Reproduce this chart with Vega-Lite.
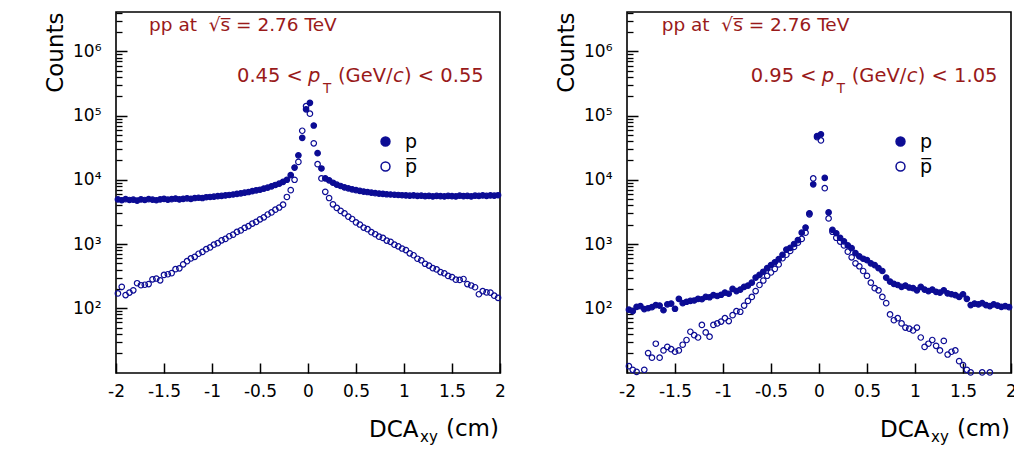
{
  "$schema": "https://vega.github.io/schema/vega-lite/v6.json",
  "background": "white",
  "padding": {"left": 43, "top": 11, "right": 0, "bottom": 0},
  "config": {
    "font": "DejaVu Sans",
    "view": {"stroke": "#000", "strokeWidth": 1.6},
    "axis": {"labelFont": "DejaVu Sans", "titleFont": "DejaVu Sans", "labelColor": "#000", "titleColor": "#000", "ticks": true, "tickColor": "#000000", "tickOpacity": 1, "tickWidth": 1.5, "titleFontWeight": "normal", "grid": false, "domain": false, "zindex": 1},
    "text": {"font": "DejaVu Sans"}
  },
  "datasets": {
    "L": [
      {"x":-1.98,"n":4950,"s":"p"},{"x":-1.94,"n":4800,"s":"p"},{"x":-1.90,"n":5000,"s":"p"},{"x":-1.86,"n":4850,"s":"p"},{"x":-1.82,"n":4900,"s":"p"},{"x":-1.78,"n":4750,"s":"p"},{"x":-1.74,"n":4950,"s":"p"},{"x":-1.70,"n":4850,"s":"p"},{"x":-1.66,"n":5000,"s":"p"},{"x":-1.62,"n":4900,"s":"p"},
      {"x":-1.58,"n":4800,"s":"p"},{"x":-1.54,"n":4950,"s":"p"},{"x":-1.50,"n":5050,"s":"p"},{"x":-1.46,"n":4900,"s":"p"},{"x":-1.42,"n":5000,"s":"p"},{"x":-1.38,"n":5100,"s":"p"},{"x":-1.34,"n":4950,"s":"p"},{"x":-1.30,"n":5050,"s":"p"},{"x":-1.26,"n":5150,"s":"p"},{"x":-1.22,"n":5050,"s":"p"},
      {"x":-1.18,"n":5200,"s":"p"},{"x":-1.14,"n":5250,"s":"p"},{"x":-1.10,"n":5200,"s":"p"},{"x":-1.06,"n":5350,"s":"p"},{"x":-1.02,"n":5400,"s":"p"},{"x":-0.98,"n":5450,"s":"p"},{"x":-0.94,"n":5550,"s":"p"},{"x":-0.90,"n":5600,"s":"p"},{"x":-0.86,"n":5700,"s":"p"},{"x":-0.82,"n":5800,"s":"p"},
      {"x":-0.78,"n":5900,"s":"p"},{"x":-0.74,"n":6050,"s":"p"},{"x":-0.70,"n":6150,"s":"p"},{"x":-0.66,"n":6300,"s":"p"},{"x":-0.62,"n":6450,"s":"p"},{"x":-0.58,"n":6650,"s":"p"},{"x":-0.54,"n":6850,"s":"p"},{"x":-0.50,"n":7000,"s":"p"},{"x":-0.46,"n":7300,"s":"p"},{"x":-0.42,"n":7550,"s":"p"},
      {"x":-0.38,"n":7900,"s":"p"},{"x":-0.34,"n":8300,"s":"p"},{"x":-0.30,"n":8700,"s":"p"},{"x":-0.26,"n":9300,"s":"p"},{"x":-0.22,"n":10000,"s":"p"},{"x":-0.18,"n":11800,"s":"p"},{"x":-0.14,"n":15500,"s":"p"},{"x":-0.10,"n":24000,"s":"p"},{"x":-0.06,"n":45000,"s":"p"},{"x":-0.02,"n":125000,"s":"p"},
      {"x":0.02,"n":158000,"s":"p"},{"x":0.06,"n":70000,"s":"p"},{"x":0.10,"n":26000,"s":"p"},{"x":0.14,"n":15000,"s":"p"},{"x":0.18,"n":10500,"s":"p"},{"x":0.22,"n":9800,"s":"p"},{"x":0.26,"n":9000,"s":"p"},{"x":0.30,"n":8400,"s":"p"},{"x":0.34,"n":8000,"s":"p"},{"x":0.38,"n":7600,"s":"p"},
      {"x":0.42,"n":7350,"s":"p"},{"x":0.46,"n":7100,"s":"p"},{"x":0.50,"n":6900,"s":"p"},{"x":0.54,"n":6700,"s":"p"},{"x":0.58,"n":6550,"s":"p"},{"x":0.62,"n":6450,"s":"p"},{"x":0.66,"n":6300,"s":"p"},{"x":0.70,"n":6200,"s":"p"},{"x":0.74,"n":6100,"s":"p"},{"x":0.78,"n":6050,"s":"p"},
      {"x":0.82,"n":5950,"s":"p"},{"x":0.86,"n":5900,"s":"p"},{"x":0.90,"n":5850,"s":"p"},{"x":0.94,"n":5800,"s":"p"},{"x":0.98,"n":5750,"s":"p"},{"x":1.02,"n":5700,"s":"p"},{"x":1.06,"n":5650,"s":"p"},{"x":1.10,"n":5700,"s":"p"},{"x":1.14,"n":5600,"s":"p"},{"x":1.18,"n":5650,"s":"p"},
      {"x":1.22,"n":5550,"s":"p"},{"x":1.26,"n":5600,"s":"p"},{"x":1.30,"n":5500,"s":"p"},{"x":1.34,"n":5600,"s":"p"},{"x":1.38,"n":5550,"s":"p"},{"x":1.42,"n":5500,"s":"p"},{"x":1.46,"n":5600,"s":"p"},{"x":1.50,"n":5550,"s":"p"},{"x":1.54,"n":5500,"s":"p"},{"x":1.58,"n":5650,"s":"p"},
      {"x":1.62,"n":5550,"s":"p"},{"x":1.66,"n":5600,"s":"p"},{"x":1.70,"n":5500,"s":"p"},{"x":1.74,"n":5650,"s":"p"},{"x":1.78,"n":5600,"s":"p"},{"x":1.82,"n":5700,"s":"p"},{"x":1.86,"n":5600,"s":"p"},{"x":1.90,"n":5700,"s":"p"},{"x":1.94,"n":5650,"s":"p"},{"x":1.98,"n":5750,"s":"p"},
      {"x":-1.98,"n":170,"s":"pbar"},{"x":-1.94,"n":215,"s":"pbar"},{"x":-1.90,"n":160,"s":"pbar"},{"x":-1.86,"n":175,"s":"pbar"},{"x":-1.82,"n":190,"s":"pbar"},{"x":-1.78,"n":245,"s":"pbar"},{"x":-1.74,"n":228,"s":"pbar"},{"x":-1.70,"n":232,"s":"pbar"},{"x":-1.66,"n":238,"s":"pbar"},{"x":-1.62,"n":282,"s":"pbar"},
      {"x":-1.58,"n":290,"s":"pbar"},{"x":-1.54,"n":272,"s":"pbar"},{"x":-1.50,"n":330,"s":"pbar"},{"x":-1.46,"n":338,"s":"pbar"},{"x":-1.42,"n":352,"s":"pbar"},{"x":-1.38,"n":405,"s":"pbar"},{"x":-1.34,"n":418,"s":"pbar"},{"x":-1.30,"n":482,"s":"pbar"},{"x":-1.26,"n":540,"s":"pbar"},{"x":-1.22,"n":596,"s":"pbar"},
      {"x":-1.18,"n":632,"s":"pbar"},{"x":-1.14,"n":705,"s":"pbar"},{"x":-1.10,"n":752,"s":"pbar"},{"x":-1.06,"n":830,"s":"pbar"},{"x":-1.02,"n":885,"s":"pbar"},{"x":-0.98,"n":975,"s":"pbar"},{"x":-0.94,"n":1030,"s":"pbar"},{"x":-0.90,"n":1140,"s":"pbar"},{"x":-0.86,"n":1200,"s":"pbar"},{"x":-0.82,"n":1320,"s":"pbar"},
      {"x":-0.78,"n":1400,"s":"pbar"},{"x":-0.74,"n":1540,"s":"pbar"},{"x":-0.70,"n":1630,"s":"pbar"},{"x":-0.66,"n":1790,"s":"pbar"},{"x":-0.62,"n":1900,"s":"pbar"},{"x":-0.58,"n":2080,"s":"pbar"},{"x":-0.54,"n":2210,"s":"pbar"},{"x":-0.50,"n":2420,"s":"pbar"},{"x":-0.46,"n":2600,"s":"pbar"},{"x":-0.42,"n":2880,"s":"pbar"},
      {"x":-0.38,"n":3100,"s":"pbar"},{"x":-0.34,"n":3420,"s":"pbar"},{"x":-0.30,"n":3700,"s":"pbar"},{"x":-0.26,"n":4100,"s":"pbar"},{"x":-0.22,"n":5400,"s":"pbar"},{"x":-0.18,"n":6900,"s":"pbar"},{"x":-0.14,"n":10000,"s":"pbar"},{"x":-0.10,"n":19000,"s":"pbar"},{"x":-0.06,"n":58000,"s":"pbar"},{"x":-0.02,"n":140000,"s":"pbar"},
      {"x":0.02,"n":107000,"s":"pbar"},{"x":0.06,"n":37000,"s":"pbar"},{"x":0.10,"n":17500,"s":"pbar"},{"x":0.14,"n":10500,"s":"pbar"},{"x":0.18,"n":6500,"s":"pbar"},{"x":0.22,"n":5200,"s":"pbar"},{"x":0.26,"n":4150,"s":"pbar"},{"x":0.30,"n":3650,"s":"pbar"},{"x":0.34,"n":3280,"s":"pbar"},{"x":0.38,"n":3010,"s":"pbar"},
      {"x":0.42,"n":2670,"s":"pbar"},{"x":0.46,"n":2450,"s":"pbar"},{"x":0.50,"n":2170,"s":"pbar"},{"x":0.54,"n":2010,"s":"pbar"},{"x":0.58,"n":1800,"s":"pbar"},{"x":0.62,"n":1700,"s":"pbar"},{"x":0.66,"n":1530,"s":"pbar"},{"x":0.70,"n":1420,"s":"pbar"},{"x":0.74,"n":1300,"s":"pbar"},{"x":0.78,"n":1245,"s":"pbar"},
      {"x":0.82,"n":1130,"s":"pbar"},{"x":0.86,"n":1080,"s":"pbar"},{"x":0.90,"n":975,"s":"pbar"},{"x":0.94,"n":920,"s":"pbar"},{"x":0.98,"n":850,"s":"pbar"},{"x":1.02,"n":805,"s":"pbar"},{"x":1.06,"n":715,"s":"pbar"},{"x":1.10,"n":668,"s":"pbar"},{"x":1.14,"n":590,"s":"pbar"},{"x":1.18,"n":558,"s":"pbar"},
      {"x":1.22,"n":492,"s":"pbar"},{"x":1.26,"n":462,"s":"pbar"},{"x":1.30,"n":420,"s":"pbar"},{"x":1.34,"n":402,"s":"pbar"},{"x":1.38,"n":365,"s":"pbar"},{"x":1.42,"n":350,"s":"pbar"},{"x":1.46,"n":318,"s":"pbar"},{"x":1.50,"n":305,"s":"pbar"},{"x":1.54,"n":278,"s":"pbar"},{"x":1.58,"n":276,"s":"pbar"},
      {"x":1.62,"n":285,"s":"pbar"},{"x":1.66,"n":238,"s":"pbar"},{"x":1.70,"n":226,"s":"pbar"},{"x":1.74,"n":212,"s":"pbar"},{"x":1.78,"n":165,"s":"pbar"},{"x":1.82,"n":184,"s":"pbar"},{"x":1.86,"n":176,"s":"pbar"},{"x":1.90,"n":175,"s":"pbar"},{"x":1.94,"n":157,"s":"pbar"},{"x":1.98,"n":145,"s":"pbar"}
    ],
    "R": [
      {"x":-1.98,"n":95,"s":"p"},{"x":-1.94,"n":90,"s":"p"},{"x":-1.90,"n":105,"s":"p"},{"x":-1.86,"n":108,"s":"p"},{"x":-1.82,"n":97,"s":"p"},{"x":-1.78,"n":100,"s":"p"},{"x":-1.74,"n":104,"s":"p"},{"x":-1.70,"n":112,"s":"p"},{"x":-1.66,"n":110,"s":"p"},{"x":-1.62,"n":93,"s":"p"},
      {"x":-1.58,"n":115,"s":"p"},{"x":-1.54,"n":118,"s":"p"},{"x":-1.50,"n":98,"s":"p"},{"x":-1.46,"n":140,"s":"p"},{"x":-1.42,"n":120,"s":"p"},{"x":-1.38,"n":126,"s":"p"},{"x":-1.34,"n":130,"s":"p"},{"x":-1.30,"n":132,"s":"p"},{"x":-1.26,"n":140,"s":"p"},{"x":-1.22,"n":138,"s":"p"},
      {"x":-1.18,"n":150,"s":"p"},{"x":-1.14,"n":148,"s":"p"},{"x":-1.10,"n":160,"s":"p"},{"x":-1.06,"n":155,"s":"p"},{"x":-1.02,"n":162,"s":"p"},{"x":-0.98,"n":175,"s":"p"},{"x":-0.94,"n":168,"s":"p"},{"x":-0.90,"n":200,"s":"p"},{"x":-0.86,"n":185,"s":"p"},{"x":-0.82,"n":195,"s":"p"},
      {"x":-0.78,"n":215,"s":"p"},{"x":-0.74,"n":225,"s":"p"},{"x":-0.70,"n":250,"s":"p"},{"x":-0.66,"n":300,"s":"p"},{"x":-0.62,"n":330,"s":"p"},{"x":-0.58,"n":370,"s":"p"},{"x":-0.54,"n":420,"s":"p"},{"x":-0.50,"n":470,"s":"p"},{"x":-0.46,"n":520,"s":"p"},{"x":-0.42,"n":580,"s":"p"},
      {"x":-0.38,"n":680,"s":"p"},{"x":-0.34,"n":820,"s":"p"},{"x":-0.30,"n":870,"s":"p"},{"x":-0.26,"n":1000,"s":"p"},{"x":-0.22,"n":1150,"s":"p"},{"x":-0.18,"n":1500,"s":"p"},{"x":-0.14,"n":1800,"s":"p"},{"x":-0.10,"n":3000,"s":"p"},{"x":-0.06,"n":8500,"s":"p"},{"x":-0.02,"n":48000,"s":"p"},
      {"x":0.02,"n":51000,"s":"p"},{"x":0.06,"n":10700,"s":"p"},{"x":0.10,"n":3100,"s":"p"},{"x":0.14,"n":1660,"s":"p"},{"x":0.18,"n":1470,"s":"p"},{"x":0.22,"n":1250,"s":"p"},{"x":0.26,"n":1100,"s":"p"},{"x":0.30,"n":950,"s":"p"},{"x":0.34,"n":860,"s":"p"},{"x":0.38,"n":720,"s":"p"},
      {"x":0.42,"n":640,"s":"p"},{"x":0.46,"n":590,"s":"p"},{"x":0.50,"n":560,"s":"p"},{"x":0.54,"n":500,"s":"p"},{"x":0.58,"n":470,"s":"p"},{"x":0.62,"n":420,"s":"p"},{"x":0.66,"n":380,"s":"p"},{"x":0.70,"n":300,"s":"p"},{"x":0.74,"n":260,"s":"p"},{"x":0.78,"n":240,"s":"p"},
      {"x":0.82,"n":230,"s":"p"},{"x":0.86,"n":215,"s":"p"},{"x":0.90,"n":225,"s":"p"},{"x":0.94,"n":210,"s":"p"},{"x":0.98,"n":205,"s":"p"},{"x":1.02,"n":190,"s":"p"},{"x":1.06,"n":215,"s":"p"},{"x":1.10,"n":195,"s":"p"},{"x":1.14,"n":185,"s":"p"},{"x":1.18,"n":195,"s":"p"},
      {"x":1.22,"n":180,"s":"p"},{"x":1.26,"n":175,"s":"p"},{"x":1.30,"n":190,"s":"p"},{"x":1.34,"n":170,"s":"p"},{"x":1.38,"n":165,"s":"p"},{"x":1.42,"n":160,"s":"p"},{"x":1.46,"n":150,"s":"p"},{"x":1.50,"n":165,"s":"p"},{"x":1.54,"n":140,"s":"p"},{"x":1.58,"n":112,"s":"p"},
      {"x":1.62,"n":118,"s":"p"},{"x":1.66,"n":115,"s":"p"},{"x":1.70,"n":120,"s":"p"},{"x":1.74,"n":112,"s":"p"},{"x":1.78,"n":108,"s":"p"},{"x":1.82,"n":115,"s":"p"},{"x":1.86,"n":110,"s":"p"},{"x":1.90,"n":105,"s":"p"},{"x":1.94,"n":108,"s":"p"},{"x":1.98,"n":104,"s":"p"},
      {"x":-1.98,"n":12.5,"s":"pbar"},{"x":-1.94,"n":11,"s":"pbar"},{"x":-1.90,"n":10.2,"s":"pbar"},{"x":-1.82,"n":11,"s":"pbar"},{"x":-1.78,"n":20,"s":"pbar"},{"x":-1.74,"n":17,"s":"pbar"},{"x":-1.70,"n":28,"s":"pbar"},{"x":-1.66,"n":17,"s":"pbar"},{"x":-1.62,"n":22,"s":"pbar"},
      {"x":-1.58,"n":25,"s":"pbar"},{"x":-1.54,"n":23,"s":"pbar"},{"x":-1.50,"n":21,"s":"pbar"},{"x":-1.46,"n":22,"s":"pbar"},{"x":-1.42,"n":27,"s":"pbar"},{"x":-1.38,"n":32,"s":"pbar"},{"x":-1.34,"n":43,"s":"pbar"},{"x":-1.30,"n":38,"s":"pbar"},{"x":-1.26,"n":35,"s":"pbar"},{"x":-1.22,"n":55,"s":"pbar"},
      {"x":-1.18,"n":42,"s":"pbar"},{"x":-1.14,"n":36,"s":"pbar"},{"x":-1.10,"n":55,"s":"pbar"},{"x":-1.06,"n":58,"s":"pbar"},{"x":-1.02,"n":62,"s":"pbar"},{"x":-0.98,"n":70,"s":"pbar"},{"x":-0.94,"n":63,"s":"pbar"},{"x":-0.90,"n":78,"s":"pbar"},{"x":-0.86,"n":90,"s":"pbar"},{"x":-0.82,"n":88,"s":"pbar"},
      {"x":-0.78,"n":110,"s":"pbar"},{"x":-0.74,"n":130,"s":"pbar"},{"x":-0.70,"n":150,"s":"pbar"},{"x":-0.66,"n":185,"s":"pbar"},{"x":-0.62,"n":230,"s":"pbar"},{"x":-0.58,"n":270,"s":"pbar"},{"x":-0.54,"n":320,"s":"pbar"},{"x":-0.50,"n":360,"s":"pbar"},{"x":-0.46,"n":410,"s":"pbar"},{"x":-0.42,"n":480,"s":"pbar"},
      {"x":-0.38,"n":600,"s":"pbar"},{"x":-0.34,"n":680,"s":"pbar"},{"x":-0.30,"n":780,"s":"pbar"},{"x":-0.26,"n":900,"s":"pbar"},{"x":-0.22,"n":1050,"s":"pbar"},{"x":-0.18,"n":1200,"s":"pbar"},{"x":-0.14,"n":1500,"s":"pbar"},{"x":-0.10,"n":2900,"s":"pbar"},{"x":-0.06,"n":10500,"s":"pbar"},{"x":-0.02,"n":46000,"s":"pbar"},
      {"x":0.02,"n":41000,"s":"pbar"},{"x":0.06,"n":7400,"s":"pbar"},{"x":0.10,"n":2500,"s":"pbar"},{"x":0.14,"n":1550,"s":"pbar"},{"x":0.18,"n":1250,"s":"pbar"},{"x":0.22,"n":1090,"s":"pbar"},{"x":0.26,"n":950,"s":"pbar"},{"x":0.30,"n":760,"s":"pbar"},{"x":0.34,"n":620,"s":"pbar"},{"x":0.38,"n":500,"s":"pbar"},
      {"x":0.42,"n":450,"s":"pbar"},{"x":0.46,"n":380,"s":"pbar"},{"x":0.50,"n":320,"s":"pbar"},{"x":0.54,"n":250,"s":"pbar"},{"x":0.58,"n":205,"s":"pbar"},{"x":0.62,"n":190,"s":"pbar"},{"x":0.66,"n":150,"s":"pbar"},{"x":0.70,"n":120,"s":"pbar"},{"x":0.74,"n":80,"s":"pbar"},{"x":0.78,"n":65,"s":"pbar"},
      {"x":0.82,"n":70,"s":"pbar"},{"x":0.86,"n":58,"s":"pbar"},{"x":0.90,"n":50,"s":"pbar"},{"x":0.94,"n":48,"s":"pbar"},{"x":0.98,"n":45,"s":"pbar"},{"x":1.02,"n":50,"s":"pbar"},{"x":1.06,"n":35,"s":"pbar"},{"x":1.10,"n":25,"s":"pbar"},{"x":1.14,"n":28,"s":"pbar"},{"x":1.18,"n":32,"s":"pbar"},
      {"x":1.22,"n":26,"s":"pbar"},{"x":1.26,"n":22,"s":"pbar"},{"x":1.30,"n":31,"s":"pbar"},{"x":1.34,"n":19,"s":"pbar"},{"x":1.38,"n":21,"s":"pbar"},{"x":1.42,"n":22,"s":"pbar"},{"x":1.46,"n":15,"s":"pbar"},{"x":1.50,"n":13,"s":"pbar"},{"x":1.54,"n":11,"s":"pbar"},{"x":1.58,"n":10,"s":"pbar"},
      {"x":1.70,"n":10,"s":"pbar"},{"x":1.78,"n":10,"s":"pbar"}
    ]
  },
  "spacing": 127,
  "bounds": "flush",
  "resolve": {"scale": {"fill": "independent"}, "legend": {"fill": "independent"}},
  "hconcat": [
    {
      "width": 384, "height": 361,
      "data": {"name": "L"},
      "resolve": {"axis": {"y": "independent"}},
      "layer": [
        {
          "mark": {"type": "point", "shape": "circle", "filled": true, "size": 30, "stroke": "#0c0c94", "strokeWidth": 1.2, "opacity": 1},
          "encoding": {
            "x": {"field": "x", "type": "quantitative", "scale": {"domain": [-2, 2], "nice": false, "zero": false},
              "axis": {"orient": "bottom", "offset": -10, "values": [-2, -1.5, -1, -0.5, 0, 0.5, 1, 1.5, 2], "labelExpr": "'' + datum.value", "ticks": true, "tickSize": 10, "tickColor": "#000000", "tickWidth": 1.5, "labelPadding": 10, "labelFlush": false, "labelOverlap": false, "labelFontSize": 17, "title": "DCA", "titleFontSize": 23, "titleAnchor": "end", "titleAlign": "right", "titleBaseline": "alphabetic", "titleX": 302, "titleY": 73}},
            "y": {"field": "n", "type": "quantitative", "scale": {"type": "log", "domain": [9.8, 4100000], "nice": false},
              "axis": {"orient": "left", "offset": -11, "values": [100, 1000, 10000, 100000, 1000000], "labelExpr": "datum.value == 100 ? '10²' : datum.value == 1000 ? '10³' : datum.value == 10000 ? '10⁴' : datum.value == 100000 ? '10⁵' : '10⁶'", "ticks": true, "tickSize": 11, "tickColor": "#000000", "tickWidth": 1.5, "labelPadding": 15, "labelFontSize": 17, "labelOverlap": false, "title": "Counts", "titleFontSize": 23, "titleAnchor": "end", "titleX": -60, "titleY": 0}},
            "fill": {"field": "s", "type": "nominal", "scale": {"domain": ["p", "pbar"], "range": ["#0c0c94", "transparent"]},
              "legend": {"orient": "none", "legendX": 260, "legendY": 120, "title": null, "labelExpr": "datum.label == 'pbar' ? 'p\u0305' : 'p'", "labelFontSize": 19, "labelFont": "DejaVu Sans", "labelColor": "#000", "symbolSize": 80, "symbolStrokeColor": "#0c0c94", "symbolStrokeWidth": 1.5, "labelOffset": 10, "rowPadding": 5, "padding": 0}}
          }
        },
        {
          "data": {"values": [{}]},
          "mark": {"type": "text", "text": "pp at\u00a0\u00a0\u221as\u0305 = 2.76 TeV", "align": "left", "baseline": "alphabetic", "fontSize": 18.5, "color": "#991a1a"},
          "encoding": {
            "x": {"datum": -1.656, "type": "quantitative"},
            "y": {"datum": 2100000, "type": "quantitative", "scale": {"type": "log"},
              "axis": {"orient": "left", "offset": -6, "values": [20,30,40,50,60,70,80,90,200,300,400,500,600,700,800,900,2000,3000,4000,5000,6000,7000,8000,9000,20000,30000,40000,50000,60000,70000,80000,90000,200000,300000,400000,500000,600000,700000,800000,900000,2000000,3000000,4000000], "ticks": true, "tickSize": 6, "tickColor": "#000000", "tickWidth": 1.3, "labels": false, "title": null}}
          }
        },
        {"data": {"values": [{}]}, "mark": {"type": "text", "text": "0.45\u00a0<", "align": "left", "baseline": "alphabetic", "fontSize": 19.5, "color": "#991a1a"},
         "encoding": {"x": {"datum": -0.7396, "type": "quantitative"}, "y": {"datum": 337000, "type": "quantitative", "axis": null}}},
        {"data": {"values": [{}]}, "mark": {"type": "text", "text": "p", "align": "left", "baseline": "alphabetic", "fontSize": 19.5, "fontStyle": "italic", "color": "#991a1a"},
         "encoding": {"x": {"datum": 0.0, "type": "quantitative"}, "y": {"datum": 337000, "type": "quantitative", "axis": null}}},
        {"data": {"values": [{}]}, "mark": {"type": "text", "text": "T", "align": "left", "baseline": "alphabetic", "fontSize": 13.5, "color": "#991a1a"},
         "encoding": {"x": {"datum": 0.156, "type": "quantitative"}, "y": {"datum": 222000, "type": "quantitative", "axis": null}}},
        {"data": {"values": [{}]}, "mark": {"type": "text", "text": "(GeV/", "align": "left", "baseline": "alphabetic", "fontSize": 19.5, "color": "#991a1a"},
         "encoding": {"x": {"datum": 0.3125, "type": "quantitative"}, "y": {"datum": 337000, "type": "quantitative", "axis": null}}},
        {"data": {"values": [{}]}, "mark": {"type": "text", "text": "c", "align": "left", "baseline": "alphabetic", "fontSize": 19.5, "fontStyle": "italic", "color": "#991a1a"},
         "encoding": {"x": {"datum": 0.885, "type": "quantitative"}, "y": {"datum": 337000, "type": "quantitative", "axis": null}}},
        {"data": {"values": [{}]}, "mark": {"type": "text", "text": ") < 0.55", "align": "left", "baseline": "alphabetic", "fontSize": 19.5, "color": "#991a1a"},
         "encoding": {"x": {"datum": 1.0, "type": "quantitative"}, "y": {"datum": 337000, "type": "quantitative", "axis": null}}},
        {"data": {"values": [{}]}, "mark": {"type": "text", "text": "xy", "align": "left", "baseline": "alphabetic", "fontSize": 15, "color": "#000", "dx": -80, "dy": 69},
         "encoding": {"x": {"datum": 2, "type": "quantitative"}, "y": {"datum": 9.8, "type": "quantitative", "axis": null}}},
        {"data": {"values": [{}]}, "mark": {"type": "text", "text": "(cm)", "align": "right", "baseline": "alphabetic", "fontSize": 23, "color": "#000", "dx": -1, "dy": 63},
         "encoding": {"x": {"datum": 2, "type": "quantitative"}, "y": {"datum": 9.8, "type": "quantitative", "axis": null}}}
      ]
    },
    {
      "width": 384, "height": 361,
      "data": {"name": "R"},
      "resolve": {"axis": {"y": "independent"}},
      "layer": [
        {
          "mark": {"type": "point", "shape": "circle", "filled": true, "size": 30, "stroke": "#0c0c94", "strokeWidth": 1.2, "opacity": 1},
          "encoding": {
            "x": {"field": "x", "type": "quantitative", "scale": {"domain": [-2, 2], "nice": false, "zero": false},
              "axis": {"orient": "bottom", "offset": -10, "values": [-2, -1.5, -1, -0.5, 0, 0.5, 1, 1.5, 2], "labelExpr": "'' + datum.value", "ticks": true, "tickSize": 10, "tickColor": "#000000", "tickWidth": 1.5, "labelPadding": 10, "labelFlush": false, "labelOverlap": false, "labelFontSize": 17, "title": "DCA", "titleFontSize": 23, "titleAnchor": "end", "titleAlign": "right", "titleBaseline": "alphabetic", "titleX": 302, "titleY": 73}},
            "y": {"field": "n", "type": "quantitative", "scale": {"type": "log", "domain": [9.8, 4100000], "nice": false},
              "axis": {"orient": "left", "offset": -11, "values": [100, 1000, 10000, 100000, 1000000], "labelExpr": "datum.value == 100 ? '10²' : datum.value == 1000 ? '10³' : datum.value == 10000 ? '10⁴' : datum.value == 100000 ? '10⁵' : '10⁶'", "ticks": true, "tickSize": 11, "tickColor": "#000000", "tickWidth": 1.5, "labelPadding": 15, "labelFontSize": 17, "labelOverlap": false, "title": "Counts", "titleFontSize": 23, "titleAnchor": "end", "titleX": -60, "titleY": 0}},
            "fill": {"field": "s", "type": "nominal", "scale": {"domain": ["p", "pbar"], "range": ["#0c0c94", "transparent"]},
              "legend": {"orient": "none", "legendX": 264, "legendY": 120, "title": null, "labelExpr": "datum.label == 'pbar' ? 'p\u0305' : 'p'", "labelFontSize": 19, "labelFont": "DejaVu Sans", "labelColor": "#000", "symbolSize": 80, "symbolStrokeColor": "#0c0c94", "symbolStrokeWidth": 1.5, "labelOffset": 10, "rowPadding": 5, "padding": 0}}
          }
        },
        {
          "data": {"values": [{}]},
          "mark": {"type": "text", "text": "pp at\u00a0\u00a0\u221as\u0305 = 2.76 TeV", "align": "left", "baseline": "alphabetic", "fontSize": 18.5, "color": "#991a1a"},
          "encoding": {
            "x": {"datum": -1.639, "type": "quantitative"},
            "y": {"datum": 2100000, "type": "quantitative", "scale": {"type": "log"},
              "axis": {"orient": "left", "offset": -6, "values": [20,30,40,50,60,70,80,90,200,300,400,500,600,700,800,900,2000,3000,4000,5000,6000,7000,8000,9000,20000,30000,40000,50000,60000,70000,80000,90000,200000,300000,400000,500000,600000,700000,800000,900000,2000000,3000000,4000000], "ticks": true, "tickSize": 6, "tickColor": "#000000", "tickWidth": 1.3, "labels": false, "title": null}}
          }
        },
        {"data": {"values": [{}]}, "mark": {"type": "text", "text": "0.95\u00a0<", "align": "left", "baseline": "alphabetic", "fontSize": 19.5, "color": "#991a1a"},
         "encoding": {"x": {"datum": -0.711, "type": "quantitative"}, "y": {"datum": 337000, "type": "quantitative", "axis": null}}},
        {"data": {"values": [{}]}, "mark": {"type": "text", "text": "p", "align": "left", "baseline": "alphabetic", "fontSize": 19.5, "fontStyle": "italic", "color": "#991a1a"},
         "encoding": {"x": {"datum": 0.028, "type": "quantitative"}, "y": {"datum": 337000, "type": "quantitative", "axis": null}}},
        {"data": {"values": [{}]}, "mark": {"type": "text", "text": "T", "align": "left", "baseline": "alphabetic", "fontSize": 13.5, "color": "#991a1a"},
         "encoding": {"x": {"datum": 0.184, "type": "quantitative"}, "y": {"datum": 222000, "type": "quantitative", "axis": null}}},
        {"data": {"values": [{}]}, "mark": {"type": "text", "text": "(GeV/", "align": "left", "baseline": "alphabetic", "fontSize": 19.5, "color": "#991a1a"},
         "encoding": {"x": {"datum": 0.341, "type": "quantitative"}, "y": {"datum": 337000, "type": "quantitative", "axis": null}}},
        {"data": {"values": [{}]}, "mark": {"type": "text", "text": "c", "align": "left", "baseline": "alphabetic", "fontSize": 19.5, "fontStyle": "italic", "color": "#991a1a"},
         "encoding": {"x": {"datum": 0.913, "type": "quantitative"}, "y": {"datum": 337000, "type": "quantitative", "axis": null}}},
        {"data": {"values": [{}]}, "mark": {"type": "text", "text": ") < 1.05", "align": "left", "baseline": "alphabetic", "fontSize": 19.5, "color": "#991a1a"},
         "encoding": {"x": {"datum": 1.028, "type": "quantitative"}, "y": {"datum": 337000, "type": "quantitative", "axis": null}}},
        {"data": {"values": [{}]}, "mark": {"type": "text", "text": "xy", "align": "left", "baseline": "alphabetic", "fontSize": 15, "color": "#000", "dx": -80, "dy": 69},
         "encoding": {"x": {"datum": 2, "type": "quantitative"}, "y": {"datum": 9.8, "type": "quantitative", "axis": null}}},
        {"data": {"values": [{}]}, "mark": {"type": "text", "text": "(cm)", "align": "right", "baseline": "alphabetic", "fontSize": 23, "color": "#000", "dx": -1, "dy": 63},
         "encoding": {"x": {"datum": 2, "type": "quantitative"}, "y": {"datum": 9.8, "type": "quantitative", "axis": null}}}
      ]
    }
  ]
}
